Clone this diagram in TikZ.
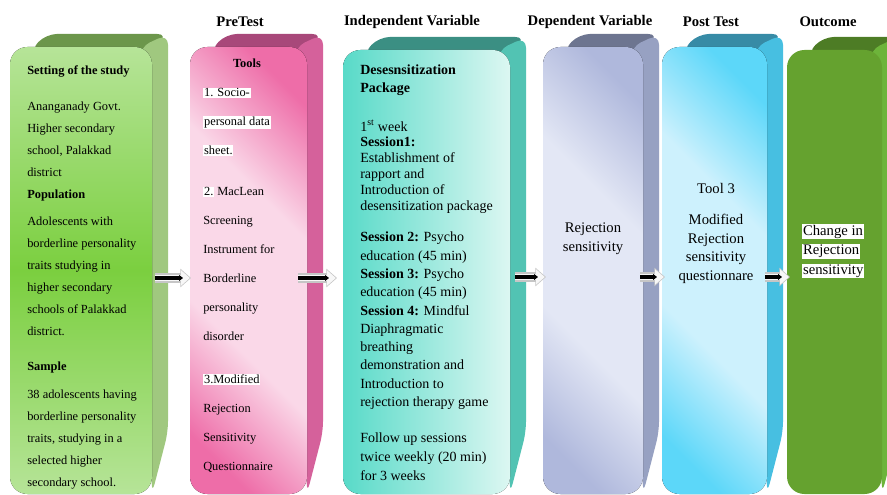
\documentclass[tikz,border=0pt]{standalone}
\usepackage{fontspec}
\setmainfont{Liberation Serif}
\usetikzlibrary{arrows.meta}

\definecolor{setTop}{HTML}{6C964B}
\definecolor{setSide}{HTML}{A0C87F}
\definecolor{setLight}{HTML}{B6E498}
\definecolor{setMid}{HTML}{7BCF3F}
\definecolor{preTop}{HTML}{A8487A}
\definecolor{preSide}{HTML}{D5619B}
\definecolor{preDeep}{HTML}{EE6DA8}
\definecolor{preLight}{HTML}{FAD8E8}
\definecolor{indTop}{HTML}{3B8F83}
\definecolor{indSide}{HTML}{52C3B3}
\definecolor{indDeep}{HTML}{58DAC8}
\definecolor{indLight}{HTML}{DCF7F2}
\definecolor{depTop}{HTML}{6D7590}
\definecolor{depSide}{HTML}{97A1C2}
\definecolor{depDeep}{HTML}{AFB8DC}
\definecolor{depLight}{HTML}{E3E7F5}
\definecolor{postTop}{HTML}{378BA6}
\definecolor{postSide}{HTML}{47BFE1}
\definecolor{postDeep}{HTML}{5CD7F9}
\definecolor{postLight}{HTML}{CDF1FD}
\definecolor{outTop}{HTML}{4D7C25}
\definecolor{outSide}{HTML}{6DB43A}
\definecolor{outFront}{HTML}{65A22F}

\pgfdeclareverticalshading{preband}{100bp}{color(0bp)=(preDeep); color(22bp)=(preDeep); color(39bp)=(preLight); color(61bp)=(preLight); color(78bp)=(preDeep); color(100bp)=(preDeep)}
\pgfdeclareverticalshading{depband}{100bp}{color(0bp)=(depDeep); color(22bp)=(depDeep); color(39bp)=(depLight); color(61bp)=(depLight); color(78bp)=(depDeep); color(100bp)=(depDeep)}
\pgfdeclareverticalshading{postband}{100bp}{color(0bp)=(postDeep); color(22bp)=(postDeep); color(39bp)=(postLight); color(61bp)=(postLight); color(78bp)=(postDeep); color(100bp)=(postDeep)}

\setlength{\fboxsep}{0.6pt}
\newcommand{\whitebg}[1]{\colorbox{white}{#1}}

% x0, x1, top, bottom, top colour, side colour, front style
\newcommand{\pillar}[7]{%
  \fill[#5, rounded corners=8pt] (#1+20,#3+4) -- (#1+36,#3-13) -- (#2+16,#3-13) -- (#2,#3+4) -- cycle;
  \fill[#6, rounded corners=8pt] (#2-12,#3) -- (#2+16,#3-13) -- (#2+16,#4-62) -- (#2,#4) -- cycle;
  \fill[#7, rounded corners=13pt] (#1,#3) rectangle (#2,#4);
}

\begin{document}
\begin{tikzpicture}[x=0.75pt, y=-0.75pt,
    heading/.style={font=\bfseries\fontsize{11}{13}\selectfont, inner sep=0pt},
    body/.style={inner sep=0pt, align=left, anchor=north west},
    rim/.style={line width=7pt, gray!45, -{Triangle[length=8pt,width=13.5pt]}},
    shell/.style={line width=5pt, gray!6, shorten >=0.9pt, -{Triangle[length=6.5pt,width=11pt]}},
    core/.style={line width=2.3pt, black, shorten >=6pt, -{Triangle[length=3pt,width=4.5pt]}}]
   \clip (0,0) rectangle (887,495);

   % pillars
   \pillar{10}{152}{47}{494}{setTop}{setSide}{top color=setLight, bottom color=setLight, middle color=setMid}
   \pillar{190}{307}{47}{494}{preTop}{preSide}{shade, shading=preband, shading angle=-45}
   \pillar{343}{510}{50}{494}{indTop}{indSide}{left color=indDeep, right color=indLight}
   \pillar{543}{643}{47}{494}{depTop}{depSide}{shade, shading=depband, shading angle=-45}
   \pillar{662}{767}{47}{494}{postTop}{postSide}{shade, shading=postband, shading angle=-45}
   \pillar{787}{882}{50}{494}{outTop}{outSide}{fill=outFront}

   % headings
   \node[heading] (hPre) at (240,22) {PreTest};
   \node[heading] (hInd) at (412,22) {Independent Variable};
   \node[heading] (hDep) at (590,22) {Dependent Variable};
   \node[heading] (hPost) at (711,22) {Post Test};
   \node[heading] (hOut) at (828,22) {Outcome};

   % setting of the study
   \node[body, font=\fontsize{9.3}{16.5}\selectfont] (setting) at (27,65.5) {%
     \textbf{Setting of the study}\\[10.5pt]
     Ananganady Govt.\\
     Higher secondary\\
     school, Palakkad\\
     district\\
     \textbf{Population}\\[3.8pt]
     Adolescents with\\
     borderline personality\\
     traits studying in\\
     higher secondary\\
     schools of Palakkad\\
     district.\\[10pt]
     \textbf{Sample}\\[4.5pt]
     38 adolescents  having\\
     borderline personality\\
     traits, studying in a\\
     selected higher\\
     secondary school.};

   % pretest
   \node[heading, font=\bfseries\fontsize{9.3}{11}\selectfont] (tools) at (247,63) {Tools};
   \node[body, font=\fontsize{9.3}{21.75}\selectfont] (tlist) at (203,87.5) {%
     \whitebg{1. Socio-}\\
     \whitebg{personal data}\\
     \whitebg{sheet.}\\[9pt]
     \whitebg{2.} MacLean\\
     Screening\\
     Instrument for\\
     Borderline\\
     personality\\
     disorder\\[10.5pt]
     \whitebg{3.Modified}\\
     Rejection\\
     Sensitivity\\
     Questionnaire};

   % independent variable
   \node[body, font=\bfseries\fontsize{10.5}{13.5}\selectfont] (pkg) at (360,65) {%
     Desesnsitization\\
     Package};
   \node[body, font=\fontsize{10.5}{11.9}\selectfont] (week) at (360,120) {%
     1\textsuperscript{st} week\\
     \textbf{Session1:}\\
     Establishment of\\
     rapport and\\
     Introduction of\\
     desensitization package};
   \node[body, font=\fontsize{10.5}{13.7}\selectfont] (sess) at (360,232) {%
     \textbf{Session 2:} Psycho\\
     education (45 min)\\
     \textbf{Session 3:} Psycho\\
     education (45 min)\\
     \textbf{Session 4:} Mindful\\
     Diaphragmatic\\
     breathing\\
     demonstration and\\
     Introduction to\\
     rejection therapy game};
   \node[body, font=\fontsize{10.5}{14.25}\selectfont] (follow) at (360,433) {%
     Follow up sessions\\
     twice weekly (20 min)\\
     for 3 weeks};

   % dependent variable
   \node[inner sep=0pt, align=center, font=\fontsize{11}{14.25}\selectfont] (rej) at (593,238.5) {Rejection\\sensitivity};

   % post test
   \node[inner sep=0pt, align=center, anchor=north, font=\fontsize{11}{13.9}\selectfont] (tool3) at (716,183) {%
     Tool 3\\[9.4pt]
     Modified\\
     Rejection\\
     sensitivity\\
     questionnare};

   % outcome
   \node[body, font=\fontsize{11}{14.6}\selectfont] (change) at (802,224) {%
     \whitebg{Change in}\\
     \whitebg{Rejection}\\
     \whitebg{sensitivity}};

   % arrows
   \coordinate (s1) at (155,278);  \coordinate (t1) at (191,278);
   \coordinate (s2) at (298,278);  \coordinate (t2) at (337,278);
   \coordinate (s3) at (515,277);  \coordinate (t3) at (546,277);
   \coordinate (s4) at (640,277);  \coordinate (t4) at (665,277);
   \coordinate (s5) at (765,277);  \coordinate (t5) at (790,277);
   \foreach \i in {1,...,5}{
     \draw[rim] (s\i) -- (t\i);
     \draw[shell] (s\i) -- (t\i);
     \draw[core] (s\i) -- (t\i);
   }
\end{tikzpicture}
\end{document}
